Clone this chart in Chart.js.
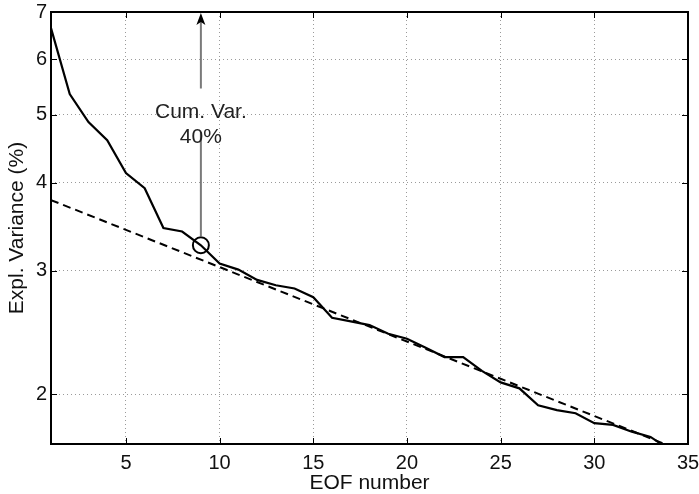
<!DOCTYPE html>
<html>
<head>
<meta charset="utf-8">
<script src="https://cdn.jsdelivr.net/npm/chart.js@4.4.0/dist/chart.umd.min.js"></script>
<style>
html,body{margin:0;padding:0;background:#fff;}
canvas{display:block;}
</style>
</head>
<body>
<canvas id="c" width="699" height="494"></canvas>
<script>
// EOF numbers and explained variance (%)
const eofNumbers = [1,2,3,4,5,6,7,8,9,10,11,12,13,14,15,16,17,18,19,20,21,22,23,24,25,26,27,28,29,30,31,32,33,34];
const explVariance = [6.64,5.35,4.88,4.60,4.13,3.93,3.45,3.41,3.26,3.07,3.01,2.91,2.86,2.83,2.75,2.57,2.54,2.51,2.44,2.40,2.33,2.26,2.26,2.16,2.08,2.04,1.93,1.90,1.88,1.82,1.81,1.77,1.74,1.67];
// dashed fit line (endpoints)
const fitX = [1, 34];
const fitY = [3.78, 1.69];
// tick values
const xTicks = [5,10,15,20,25,30,35];
const yTicks = [2,3,4,5,6,7];
// annotation
const annotX = 9;
const annotY = 3.26;
const annotLabel = ['Cum. Var.', '40%'];
const annotLabelY = [5.04, 4.65];
const annotGap = [4.72, 5.45]; // arrow line gap (values) around label

const FONT = 'Liberation Sans, Arial, Helvetica, sans-serif';

const framePlugin = {
  id: 'frame',
  afterDraw(chart) {
    const {ctx, chartArea: a, scales: {x, y}} = chart;
    ctx.save();
    // inward ticks
    ctx.strokeStyle = '#000';
    ctx.lineWidth = 1;
    const tl = 6;
    xTicks.forEach(v => {
      const px = Math.round(x.getPixelForValue(v)) + 0.5;
      ctx.beginPath();
      ctx.moveTo(px, a.bottom); ctx.lineTo(px, a.bottom - tl);
      ctx.moveTo(px, a.top); ctx.lineTo(px, a.top + tl);
      ctx.stroke();
    });
    yTicks.forEach(v => {
      const py = Math.round(y.getPixelForValue(v)) + 0.5;
      ctx.beginPath();
      ctx.moveTo(a.left, py); ctx.lineTo(a.left + tl, py);
      ctx.moveTo(a.right, py); ctx.lineTo(a.right - tl, py);
      ctx.stroke();
    });
    // frame
    ctx.lineWidth = 2;
    ctx.strokeStyle = '#000';
    ctx.strokeRect(a.left, a.top, a.right - a.left, a.bottom - a.top);

    // annotation arrow
    const ax = x.getPixelForValue(annotX);
    const cy = y.getPixelForValue(annotY);
    const gLow = y.getPixelForValue(annotGap[0]);
    const gHigh = y.getPixelForValue(annotGap[1]);
    const topY = y.getPixelForValue(yTicks[yTicks.length - 1]);
    ctx.strokeStyle = '#7a7a7a';
    ctx.lineWidth = 2;
    ctx.beginPath();
    ctx.moveTo(ax, cy - 9); ctx.lineTo(ax, gLow);
    ctx.moveTo(ax, gHigh); ctx.lineTo(ax, topY + 10);
    ctx.stroke();
    ctx.fillStyle = '#000';
    ctx.beginPath();
    ctx.moveTo(ax, topY + 1);
    ctx.lineTo(ax - 4.5, topY + 13);
    ctx.lineTo(ax, topY + 10);
    ctx.lineTo(ax + 4.5, topY + 13);
    ctx.closePath();
    ctx.fill();

    // annotation text
    ctx.fillStyle = '#222';
    ctx.font = '21px ' + FONT;
    ctx.textAlign = 'center';
    ctx.textBaseline = 'middle';
    annotLabel.forEach((t, i) => {
      ctx.fillText(t, ax, y.getPixelForValue(annotLabelY[i]));
    });
    ctx.restore();
  }
};

new Chart(document.getElementById('c'), {
  type: 'line',
  data: {
    datasets: [
      {
        label: 'Explained variance',
        data: eofNumbers.map((e, i) => ({x: e, y: explVariance[i]})),
        borderColor: '#000',
        borderWidth: 2.2,
        pointRadius: 0,
        tension: 0,
        fill: false
      },
      {
        label: 'Fit',
        data: fitX.map((e, i) => ({x: e, y: fitY[i]})),
        borderColor: '#000',
        borderWidth: 2,
        borderDash: [8, 5],
        pointRadius: 0,
        fill: false
      },
      {
        label: 'Marker',
        data: [{x: annotX, y: annotY}],
        showLine: false,
        pointStyle: 'circle',
        pointRadius: 8,
        pointBorderWidth: 2,
        pointBorderColor: '#000',
        pointBackgroundColor: 'rgba(0,0,0,0)'
      }
    ]
  },
  options: {
    responsive: false,
    animation: false,
    events: [],
    layout: {padding: 0},
    plugins: {legend: {display: false}, tooltip: {enabled: false}},
    scales: {
      x: {
        type: 'linear',
        min: 1,
        max: 35,
        afterBuildTicks: s => { s.ticks = xTicks.map(v => ({value: v})); },
        afterFit: s => { s.height = 50; s.paddingLeft = 0; s.paddingRight = 11; },
        ticks: {
          color: '#111',
          font: {family: FONT, size: 20},
          padding: 7,
          maxRotation: 0,
          autoSkip: false
        },
        grid: {color: '#9a9a9a', lineWidth: 1, drawTicks: false},
        border: {display: false, dash: [1, 3]},
        title: {
          display: true,
          text: 'EOF number',
          color: '#111',
          font: {family: FONT, size: 21},
          padding: {top: 0, bottom: -2}
        }
      },
      y: {
        type: 'logarithmic',
        min: 1.7,
        max: 7,
        afterBuildTicks: s => { s.ticks = yTicks.map(v => ({value: v})); },
        afterFit: s => { s.width = 51; s.paddingTop = 12; s.paddingBottom = 0; },
        ticks: {
          color: '#111',
          font: {family: FONT, size: 20},
          padding: 4,
          callback: v => String(v),
          autoSkip: false
        },
        grid: {color: '#9a9a9a', lineWidth: 1, drawTicks: false},
        border: {display: false, dash: [1, 3]},
        title: {
          display: true,
          text: 'Expl. Variance (%)',
          color: '#111',
          font: {family: FONT, size: 21},
          padding: {top: 5, bottom: 0}
        }
      }
    }
  },
  plugins: [framePlugin]
});
</script>
</body>
</html>
